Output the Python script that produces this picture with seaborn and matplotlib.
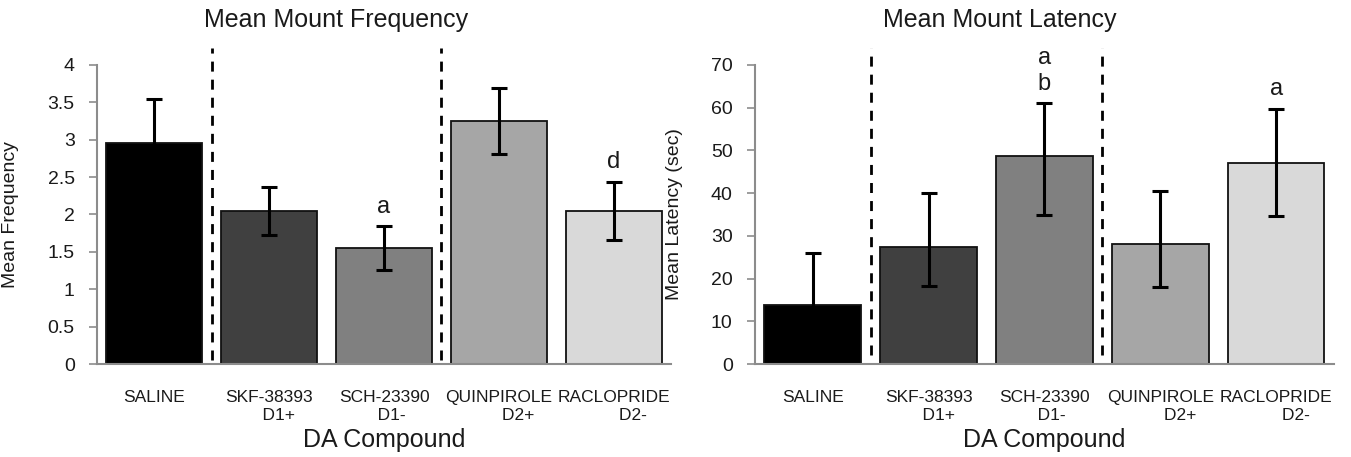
import numpy as np
import pandas as pd
import matplotlib
matplotlib.use("Agg")
import matplotlib.pyplot as plt
import seaborn as sns

# data
compounds = ["SALINE", "SKF-38393\n    D1+", "SCH-23390\n   D1-",
             "QUINPIROLE\n        D2+", "RACLOPRIDE\n        D2-"]
bar_colors = ["#000000", "#404040", "#808080", "#A6A6A6", "#D9D9D9"]

freq_mean = [2.95, 2.05, 1.55, 3.25, 2.05]
freq_lo = [2.35, 1.73, 1.26, 2.81, 1.66]
freq_hi = [3.55, 2.37, 1.85, 3.69, 2.44]
freq_marks = ["", "", "a", "", "d"]

lat_mean = [13.7, 27.5, 48.6, 28.0, 47.1]
lat_lo = [1.3, 18.3, 34.9, 18.1, 34.6]
lat_hi = [26.1, 40.0, 61.0, 40.5, 59.8]
lat_marks = ["", "", "a\nb", "", "a"]

# dashed separators sit after these category indices
dividers = [0, 2]

sns.set_style("white")
plt.rcParams['font.family'] = ['Liberation Sans', 'DejaVu Sans']

fig = plt.figure(figsize=(13.51, 4.57), dpi=100)
ax1 = fig.add_axes([0.0718, 0.2035, 0.4249, 0.6543])
ax2 = fig.add_axes([0.5588, 0.2035, 0.4286, 0.6543])


def draw_panel(ax, mean, lo, hi, marks, title, ylabel, ymax, ystep, title_x, ylab_x, dash_lo):
    df = pd.DataFrame({"compound": compounds, "value": mean})
    sns.barplot(data=df, x="compound", y="value", hue="compound", palette=bar_colors,
                legend=False, width=0.835, edgecolor="#111111", linewidth=1.3,
                errorbar=None, ax=ax)
    xs = np.arange(len(mean))
    yerr = [np.array(mean) - np.array(lo), np.array(hi) - np.array(mean)]
    ax.errorbar(xs, mean, yerr=yerr, fmt="none", ecolor="black", elinewidth=2.2,
                capsize=6, capthick=2.2, zorder=5)
    for i, m in enumerate(marks):
        if m:
            ax.annotate(m, (xs[i], hi[i]), xytext=(0, 9.5), textcoords="offset points",
                        ha="center", va="baseline", fontsize=17, linespacing=1.25,
                        color="#1a1a1a")
    for d in dividers:
        ax.axvline(d + 0.5, ymin=dash_lo, ymax=1.057, color="black", lw=2.0,
                   dashes=(3.6, 2.9), clip_on=False, zorder=6)

    ax.set_xlim(-0.5, len(mean) - 0.5)
    ax.set_ylim(0, ymax)
    ticks = np.arange(0, ymax + ystep / 2, ystep)
    ax.set_yticks(ticks)
    ax.set_yticklabels([f"{v:g}" for v in ticks])
    for s in ["top", "right"]:
        ax.spines[s].set_visible(False)
    for s in ["left", "bottom"]:
        ax.spines[s].set_color("#8C8C8C")
        ax.spines[s].set_linewidth(1.5)
    ax.tick_params(axis="y", left=True, length=5.5, width=1.2, color="#8C8C8C",
                   labelsize=14, pad=10.5, labelcolor="#1a1a1a")
    ax.tick_params(axis="x", bottom=False, length=0, labelsize=12.5, pad=19,
                   labelcolor="#1a1a1a")
    ax.set_xlabel("DA Compound", fontsize=18, color="#1a1a1a")
    ax.xaxis.set_label_coords(0.5, -0.215)
    ax.set_ylabel(ylabel, fontsize=14, color="#1a1a1a")
    ax.yaxis.set_label_coords(ylab_x, 0.5)
    ax.text(title_x, 1.127, title, transform=ax.transAxes, ha="center",
            va="baseline", fontsize=18, color="#1a1a1a")


draw_panel(ax1, freq_mean, freq_lo, freq_hi, freq_marks, "Mean Mount Frequency",
           "Mean Frequency", 4, 0.5, 0.416, -0.136, 0.013)
draw_panel(ax2, lat_mean, lat_lo, lat_hi, lat_marks, "Mean Mount Latency",
           "Mean Latency (sec)", 70, 10, 0.423, -0.124, 0.03)

fig.savefig("out.png", dpi=100)
